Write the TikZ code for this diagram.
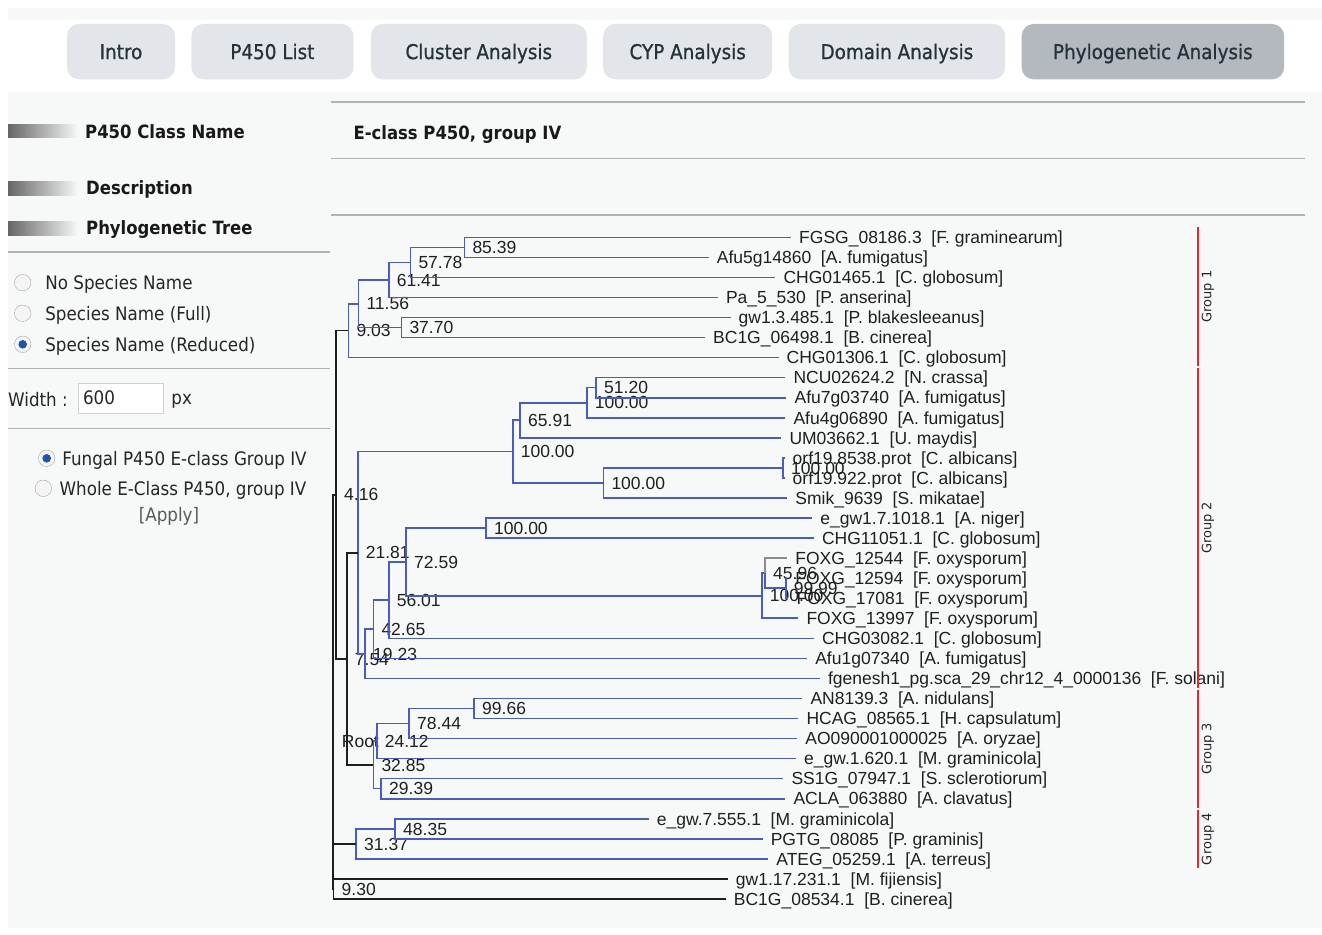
\documentclass[tikz,border=0pt]{standalone}
\usepackage{fontspec}
\setmainfont{Liberation Sans}
\newfontfamily\uifont[FakeStretch=0.9]{DejaVu Sans}
\newfontfamily\tabfam[FakeStretch=0.9, FakeBold=0.9]{DejaVu Sans}
\newfontfamily\grpfam{DejaVu Sans}
\usetikzlibrary{positioning}

\definecolor{pagebg}{RGB}{247,248,248}
\definecolor{tabfill}{RGB}{226,229,233}
\definecolor{tabact}{RGB}{180,185,192}
\definecolor{tabtext}{RGB}{38,50,58}
\definecolor{treeblue}{RGB}{72,92,196}
\definecolor{treeblack}{RGB}{30,30,30}
\definecolor{grpred}{RGB}{232,40,40}
\definecolor{rulegray}{RGB}{178,178,178}
\definecolor{radiodot}{RGB}{30,85,165}

\newcommand{\leaffont}{\fontsize{17.5}{20}\selectfont}
\newcommand{\tabfont}{\tabfam\fontsize{20.4}{24}\selectfont}
\newcommand{\headfont}{\uifont\bfseries\fontsize{18.3}{22}\selectfont}
\newcommand{\uitextfont}{\uifont\fontsize{18.6}{22}\selectfont}
\newcommand{\grpfont}{\grpfam\fontsize{13}{15}\selectfont}
\newcommand{\twosp}{\hspace{0.556em}}

\begin{document}
\begin{tikzpicture}[x=1pt, y=-1pt,
  tab/.style={rectangle, rounded corners=12pt, fill=tabfill, minimum height=55.3pt, inner sep=0pt, font=\tabfont, text=tabtext, text height=14.9pt, text depth=0pt},
  tabon/.style={tab, fill=tabact},
  head/.style={anchor=west, inner sep=0pt, font=\headfont, text=black!90, text height=13.3pt, text depth=0pt},
  uitext/.style={anchor=west, inner sep=0pt, font=\uitextfont, text=black!85, text height=13.6pt, text depth=0pt},
  radio/.style={circle, draw=black!35, fill=black!4, minimum size=16.5pt, inner sep=0pt},
  radioon/.style={radio, path picture={\fill[radiodot] (path picture bounding box.center) circle (4.3pt);}},
  inputbox/.style={rectangle, draw=black!18, fill=white, minimum width=85pt, minimum height=30pt},
  sepline/.style={draw=rulegray, line width=1.6pt},
  leaf/.style={anchor=west, inner xsep=8pt, inner ysep=0pt, font=\leaffont, text=black!88, text height=12.5pt, text depth=0pt},
  bval/.style={leaf},
  tbranch/.style={draw=treeblue, line width=1.6pt},
  rbranch/.style={draw=treeblack, line width=1.6pt},
  grpline/.style={draw=grpred, line width=1.5pt},
  grplbl/.style={rotate=90, inner sep=0pt, font=\grpfont, text=black!85}
]

% page
\fill[white] (0,0) rectangle (1322,934);
\fill[pagebg] (8,8) rectangle (1322,928);
\fill[white] (8,20) rectangle (1322,92);
\useasboundingbox (0,0) rectangle (1322,934);

% tabs
\node[tab, minimum width=108pt] (tIntro) at (121,51.65) {Intro};
\node[tab, minimum width=162pt, right=16pt of tIntro] (tList) {P450 List};
\node[tab, minimum width=216pt, right=17pt of tList] (tCluster) {Cluster Analysis};
\node[tab, minimum width=169pt, right=16pt of tCluster] (tCyp) {CYP Analysis};
\node[tab, minimum width=216.6pt, right=16pt of tCyp] (tDomain) {Domain Analysis};
\node[tabon, minimum width=262.5pt, right=16pt of tDomain] (tPhylo) {Phylogenetic Analysis};

% rules
\draw[sepline] (331,101.7) -- (1305,101.7);
\draw[sepline] (331,158.3) -- (1305,158.3);
\draw[sepline] (331,215) -- (1305,215);
\draw[sepline] (8,251.7) -- (330,251.7);
\draw[sepline] (8,368.3) -- (330,368.3);
\draw[sepline] (8,428.3) -- (330,428.3);

% left panel headings
\shade[left color=black!60, right color=pagebg] (8,124) rectangle (78,137);
\shade[left color=black!60, right color=pagebg] (8,181) rectangle (78,195);
\shade[left color=black!60, right color=pagebg] (8,221) rectangle (78,235);
\node[head] (hClass) at (85,131.7) {P450 Class Name};
\node[head] (hDesc) at (86,188.3) {Description};
\node[head] (hTree) at (86,227.7) {Phylogenetic Tree};
\node[head] (cname) at (353.3,133.3) {E-class P450, group IV};

% options
\node[radio] (rNone) at (22.7,282.7) {};
\node[uitext, right=14pt of rNone] (tNone) {No Species Name};
\node[radio] (rFull) at (22.7,313.3) {};
\node[uitext, right=14pt of rFull] (tFull) {Species Name (Full)};
\node[radioon] (rRed) at (22.7,344.3) {};
\node[uitext, right=14pt of rRed] (tRed) {Species Name (Reduced)};
\node[uitext] (wlbl) at (8,400) {Width :};
\node[inputbox] (wbox) at (120.5,398) {};
\node[uitext, right=5pt of wbox.west] (wval) {600};
\node[uitext, right=8pt of wbox] (wunit) {px};
\node[radioon] (rFungal) at (46.7,458.3) {};
\node[uitext, right=7pt of rFungal] (tFungal) {Fungal P450 E-class Group IV};
\node[radio] (rWhole) at (43.3,488.3) {};
\node[uitext, right=7.7pt of rWhole] (tWhole) {Whole E-Class P450, group IV};
\node[uitext, anchor=center, text=black!65] (apply) at (169,515) {[Apply]};

% leaves
\node[leaf] (l1) at (791,237.3) {FGSG\_08186.3\twosp[F. graminearum]};
\node[leaf] (l2) at (708.7,257.35) {Afu5g14860\twosp[A. fumigatus]};
\node[leaf] (l3) at (775.3,277.4) {CHG01465.1\twosp[C. globosum]};
\node[leaf] (l4) at (717.8,297.45) {Pa\_5\_530\twosp[P. anserina]};
\node[leaf] (l5) at (730.5,317.5) {gw1.3.485.1\twosp[P. blakesleeanus]};
\node[leaf] (l6) at (705,337.55) {BC1G\_06498.1\twosp[B. cinerea]};
\node[leaf] (l7) at (778.5,357.6) {CHG01306.1\twosp[C. globosum]};
\node[leaf] (l8) at (785.3,377.65) {NCU02624.2\twosp[N. crassa]};
\node[leaf] (l9) at (786.4,397.7) {Afu7g03740\twosp[A. fumigatus]};
\node[leaf] (l10) at (785.3,417.75) {Afu4g06890\twosp[A. fumigatus]};
\node[leaf] (l11) at (781.3,437.8) {UM03662.1\twosp[U. maydis]};
\node[leaf] (l12) at (784.5,457.85) {orf19.8538.prot\twosp[C. albicans]};
\node[leaf] (l13) at (784.5,477.9) {orf19.922.prot\twosp[C. albicans]};
\node[leaf] (l14) at (787.2,497.95) {Smik\_9639\twosp[S. mikatae]};
\node[leaf] (l15) at (812.2,518) {e\_gw1.7.1018.1\twosp[A. niger]};
\node[leaf] (l16) at (813.8,538.05) {CHG11051.1\twosp[C. globosum]};
\node[leaf] (l17) at (787.2,558.1) {FOXG\_12544\twosp[F. oxysporum]};
\node[leaf] (l18) at (787.2,578.15) {FOXG\_12594\twosp[F. oxysporum]};
\node[leaf] (l19) at (788.4,598.2) {FOXG\_17081\twosp[F. oxysporum]};
\node[leaf] (l20) at (798.3,618.25) {FOXG\_13997\twosp[F. oxysporum]};
\node[leaf] (l21) at (813.8,638.3) {CHG03082.1\twosp[C. globosum]};
\node[leaf] (l22) at (807.1,658.35) {Afu1g07340\twosp[A. fumigatus]};
\node[leaf] (l23) at (819.8,678.4) {fgenesh1\_pg.sca\_29\_chr12\_4\_0000136\twosp[F. solani]};
\node[leaf] (l24) at (802.3,698.45) {AN8139.3\twosp[A. nidulans]};
\node[leaf] (l25) at (798.3,718.5) {HCAG\_08565.1\twosp[H. capsulatum]};
\node[leaf] (l26) at (797.2,738.55) {AO090001000025\twosp[A. oryzae]};
\node[leaf] (l27) at (796,758.6) {e\_gw.1.620.1\twosp[M. graminicola]};
\node[leaf] (l28) at (783.3,778.65) {SS1G\_07947.1\twosp[S. sclerotiorum]};
\node[leaf] (l29) at (785.3,798.7) {ACLA\_063880\twosp[A. clavatus]};
\node[leaf] (l30) at (648.7,818.75) {e\_gw.7.555.1\twosp[M. graminicola]};
\node[leaf] (l31) at (762.6,838.8) {PGTG\_08085\twosp[P. graminis]};
\node[leaf] (l32) at (768.2,858.85) {ATEG\_05259.1\twosp[A. terreus]};
\node[leaf] (l33) at (727.7,878.9) {gw1.17.231.1\twosp[M. fijiensis]};
\node[leaf] (l34) at (725.7,898.95) {BC1G\_08534.1\twosp[B. cinerea]};

% inner nodes
\node[bval] (n1) at (464.3,247.33) {85.39};
\node[bval] (n2) at (410.3,262.36) {57.78};
\node[bval] (n3) at (388.7,279.9) {61.41};
\node[bval] (n4) at (401.3,327.53) {37.70};
\node[bval] (n5) at (358.3,303.72) {11.56};
\node[bval] (n6) at (348.3,330.66) {9.03};
\node[bval] (n7) at (596,387.68) {51.20};
\node[bval] (n8) at (586.7,402.71) {100.00};
\node[bval] (n9) at (520,420.26) {65.91};
\node[bval] (n10) at (783,467.88) {100.00};
\node[bval] (n11) at (603.3,482.91) {100.00};
\node[bval] (n12) at (512.7,451.59) {100.00};
\node[bval] (n13) at (486,528.03) {100.00};
\node[bval] (f1) at (785.7,588.18) {99.99};
\node[bval] (f2) at (765,573.14) {45.96};
\node[bval] (f3) at (761.7,595.7) {100.00};
\node[bval] (n14) at (406,561.86) {72.59};
\node[bval] (n15) at (388.7,600.08) {56.01};
\node[bval] (n16) at (373.3,629.22) {42.65};
\node[bval] (n17) at (365,653.81) {19.23};
\node[bval] (n18) at (357.7,552.7) {21.81};
\node[bval] (g1) at (474,708.48) {99.66};
\node[bval] (g2) at (409,723.51) {78.44};
\node[bval] (g3) at (376.7,741.06) {24.12};
\node[bval] (g4) at (381,788.68) {29.39};
\node[bval] (g5) at (373.3,764.87) {32.85};
\node[bval] (h1) at (395,828.78) {48.35};
\node[bval] (h2) at (356,843.81) {31.37};
\node[bval] (o1) at (333.5,888.93) {9.30};
\node[bval] (nB) at (346.7,658.79) {7.54};
\node[bval] (nA) at (336,494.73) {4.16};
\node[bval, inner xsep=9pt] (root) at (332.7,741) {Root};

% branches
\foreach \p/\c in {n1/l1,n1/l2,n2/n1,n2/l3,n3/n2,n3/l4,n4/l5,n4/l6,n5/n3,n5/n4,n6/n5,n6/l7,
    n7/l8,n7/l9,n8/n7,n8/l10,n9/n8,n9/l11,n10/l12,n10/l13,n11/n10,n11/l14,n12/n9,n12/n11,
    n13/l15,n13/l16,f1/l18,f1/l19,f2/f1,f3/f2,f3/l20,n14/n13,n14/f3,n15/n14,n15/l21,
    n16/n15,n16/l22,n17/n16,n17/l23,n18/n12,n18/n17,
    g1/l24,g1/l25,g2/g1,g2/l26,g3/g2,g3/l27,g4/l28,g4/l29,g5/g3,g5/g4,
    h1/l30,h1/l31,h2/h1,h2/l32}
  \draw[tbranch] (\p.west) |- (\c.west);
\draw[tbranch, draw=black!45] (f2.west) |- (l17.west);
\foreach \p/\c in {o1/l33,o1/l34,nB/n18,nB/g5,nA/n6,nA/nB,root/nA,root/h2,root/o1}
  \draw[rbranch] (\p.west) |- (\c.west);

% groups
\draw[grpline] (1198,227.3) -- (1198,365.7);
\draw[grpline] (1198,368.3) -- (1198,688);
\draw[grpline] (1198,690) -- (1198,807.7);
\draw[grpline] (1198,810) -- (1198,868.3);
\node[grplbl] (grp1) at (1208,296.5) {Group 1};
\node[grplbl] (grp2) at (1208,528) {Group 2};
\node[grplbl] (grp3) at (1208,748.8) {Group 3};
\node[grplbl] (grp4) at (1208,839) {Group 4};

\end{tikzpicture}
\end{document}
